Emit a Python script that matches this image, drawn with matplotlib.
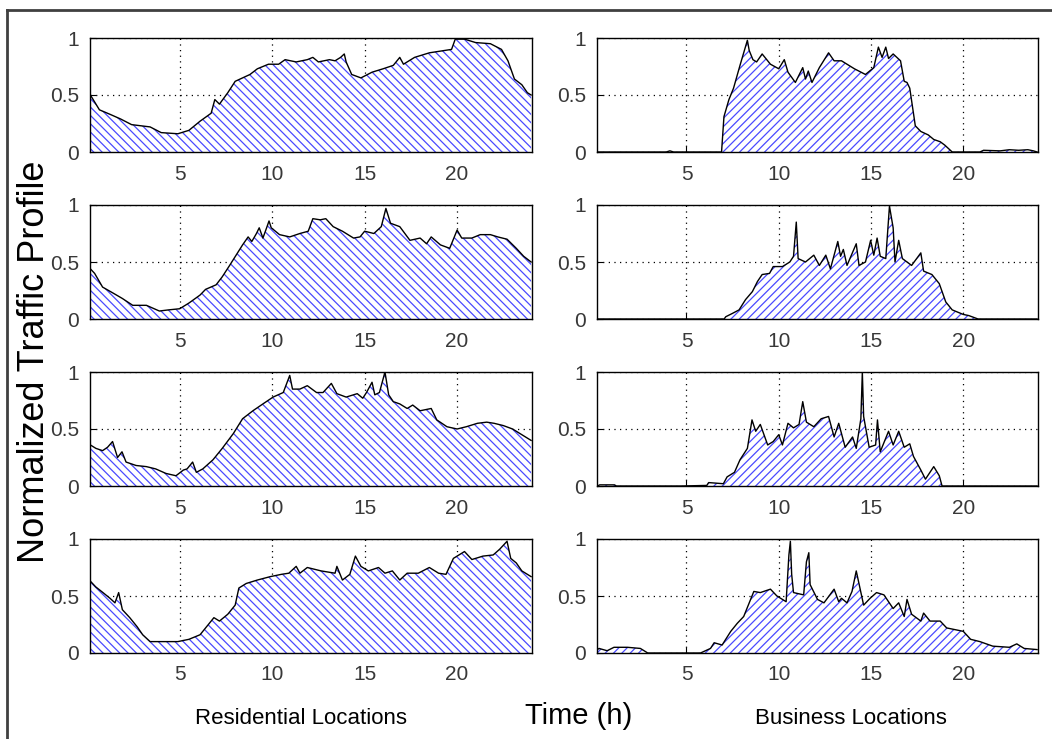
import matplotlib
matplotlib.use("Agg")
import matplotlib.pyplot as plt
from matplotlib.lines import Line2D

plt.rcParams['font.family'] = ['Liberation Sans', 'DejaVu Sans']
plt.rcParams['hatch.linewidth'] = 0.9

# ---------------- data (hours, normalized traffic) ----------------
res1_h = [0.17, 0.66, 1.24, 1.8, 2.4, 3.4, 4.0, 4.9, 5.5, 6.1, 6.7, 6.9, 7.15, 7.6, 8.0, 8.8, 9.2, 9.8,
          10.35, 10.7, 11.3, 11.9, 12.2, 12.5, 13.1, 13.4, 13.7, 13.9, 14.0, 14.3, 14.8, 15.4, 16.0,
          16.55, 16.9, 17.1, 17.7, 18.5, 19.3, 19.7, 19.9, 20.4, 21.0, 21.8, 22.4, 22.75, 23.1, 23.5,
          23.8, 24.0]
res1_v = [0.50, 0.37, 0.33, 0.29, 0.24, 0.22, 0.17, 0.16, 0.19, 0.27, 0.34, 0.46, 0.42, 0.52, 0.62,
          0.68, 0.73, 0.77, 0.77, 0.81, 0.79, 0.81, 0.83, 0.79, 0.81, 0.80, 0.83, 0.86, 0.79, 0.68,
          0.65, 0.70, 0.73, 0.76, 0.83, 0.77, 0.83, 0.87, 0.89, 0.90, 0.99, 0.99, 0.96, 0.95, 0.90,
          0.80, 0.64, 0.59, 0.52, 0.50]

res2_h = [0.17, 0.4, 0.83, 1.37, 1.9, 2.46, 3.2, 3.9, 4.4, 5.0, 5.5, 6.1, 6.4, 6.97, 7.3, 7.7, 8.05,
          8.4, 8.7, 8.9, 9.15, 9.3, 9.5, 9.7, 9.83, 9.95, 10.4, 10.95, 11.5, 11.95, 12.2, 12.6, 12.9,
          13.3, 13.8, 14.4, 14.75, 15.0, 15.5, 15.9, 16.15, 16.4, 16.9, 17.45, 18.0, 18.35, 18.6,
          19.1, 19.6, 20.0, 20.25, 20.8, 21.25, 21.8, 22.2, 22.7, 23.2, 23.6, 24.0]
res2_v = [0.44, 0.40, 0.28, 0.23, 0.18, 0.12, 0.12, 0.07, 0.08, 0.09, 0.14, 0.21, 0.26, 0.30, 0.37,
          0.47, 0.56, 0.65, 0.72, 0.68, 0.75, 0.80, 0.71, 0.80, 0.86, 0.80, 0.74, 0.72, 0.75, 0.77,
          0.88, 0.87, 0.88, 0.81, 0.77, 0.71, 0.72, 0.77, 0.75, 0.81, 0.97, 0.84, 0.81, 0.69, 0.71,
          0.66, 0.72, 0.65, 0.62, 0.78, 0.71, 0.71, 0.74, 0.74, 0.72, 0.70, 0.62, 0.55, 0.50]

res3_h = [0.17, 0.47, 0.83, 1.1, 1.37, 1.64, 1.88, 2.1, 2.64, 3.2, 3.7, 4.26, 4.8, 5.2, 5.4, 5.7,
          5.9, 6.25, 6.8, 7.3, 7.9, 8.4, 8.96, 9.5, 10.05, 10.6, 10.95, 11.1, 11.5, 11.9, 12.4, 12.75,
          13.2, 13.5, 14.0, 14.6, 14.9, 15.1, 15.4, 15.55, 15.8, 16.0, 16.1, 16.3, 16.55, 16.9, 17.3,
          17.6, 18.0, 18.6, 18.9, 19.45, 20.0, 20.5, 21.1, 21.6, 22.0, 22.5, 23.0, 23.5, 24.0]
res3_v = [0.36, 0.33, 0.31, 0.34, 0.39, 0.25, 0.30, 0.21, 0.18, 0.17, 0.15, 0.11, 0.09, 0.14, 0.15,
          0.21, 0.12, 0.15, 0.23, 0.33, 0.46, 0.59, 0.66, 0.72, 0.78, 0.82, 0.97, 0.85, 0.85, 0.88,
          0.82, 0.82, 0.90, 0.81, 0.78, 0.81, 0.77, 0.82, 0.91, 0.80, 0.82, 0.94, 1.00, 0.80, 0.74,
          0.72, 0.68, 0.71, 0.66, 0.68, 0.58, 0.52, 0.50, 0.52, 0.55, 0.56, 0.55, 0.53, 0.50, 0.45,
          0.40]

res4_h = [0.17, 0.46, 0.85, 1.23, 1.5, 1.7, 1.9, 2.3, 2.7, 3.0, 3.4, 3.95, 4.9, 5.5, 6.1, 6.45, 6.85,
          7.15, 7.6, 8.0, 8.2, 8.6, 9.2, 9.9, 10.5, 10.9, 11.3, 11.5, 11.9, 12.65, 13.4, 13.5, 13.8,
          14.2, 14.5, 14.8, 15.2, 15.75, 16.1, 16.5, 16.9, 17.3, 17.9, 18.5, 19.0, 19.4, 19.8, 20.4,
          20.8, 21.4, 21.95, 22.3, 22.7, 22.9, 23.2, 23.5, 24.0]
res4_v = [0.63, 0.58, 0.53, 0.48, 0.44, 0.53, 0.38, 0.31, 0.23, 0.16, 0.10, 0.10, 0.10, 0.12, 0.16,
          0.23, 0.31, 0.28, 0.34, 0.42, 0.57, 0.61, 0.64, 0.67, 0.69, 0.70, 0.76, 0.70, 0.75, 0.72,
          0.70, 0.76, 0.64, 0.69, 0.85, 0.76, 0.72, 0.75, 0.70, 0.72, 0.64, 0.70, 0.70, 0.75, 0.70,
          0.69, 0.83, 0.89, 0.82, 0.85, 0.86, 0.91, 0.98, 0.83, 0.79, 0.72, 0.67]

bus1_h = [0.17, 3.9, 4.1, 4.3, 6.9, 7.03, 7.3, 7.55, 7.9, 8.1, 8.3, 8.4, 8.6, 8.8, 9.1, 9.55, 10.0,
          10.3, 10.5, 10.9, 11.3, 11.45, 11.6, 11.8, 12.2, 12.7, 13.0, 13.4, 14.1, 14.7, 15.15, 15.4,
          15.6, 15.8, 15.95, 16.2, 16.6, 16.8, 16.95, 17.1, 17.4, 17.7, 18.1, 18.4, 18.75, 19.0,
          19.4, 20.9, 21.1, 22.0, 22.5, 23.0, 23.5, 23.8, 24.0]
bus1_v = [0.0, 0.0, 0.01, 0.0, 0.0, 0.31, 0.46, 0.56, 0.76, 0.87, 0.98, 0.89, 0.81, 0.79, 0.86,
          0.77, 0.73, 0.81, 0.70, 0.61, 0.74, 0.64, 0.71, 0.61, 0.74, 0.87, 0.80, 0.80, 0.73, 0.68,
          0.74, 0.92, 0.83, 0.92, 0.82, 0.86, 0.80, 0.62, 0.61, 0.56, 0.23, 0.18, 0.15, 0.11, 0.09,
          0.06, 0.0, 0.0, 0.015, 0.01, 0.02, 0.015, 0.02, 0.01, 0.0]

bus2_h = [0.17, 7.04, 7.13, 7.5, 7.85, 8.2, 8.57, 8.85, 9.1, 9.5, 9.7, 10.2, 10.6, 10.8, 10.95,
          11.05, 11.45, 11.9, 12.2, 12.55, 12.8, 13.2, 13.35, 13.5, 13.7, 14.2, 14.35, 14.7, 14.98,
          15.15, 15.33, 15.5, 15.8, 16.0, 16.2, 16.3, 16.5, 16.7, 17.2, 17.7, 17.85, 18.3, 18.7,
          19.05, 19.4, 20.0, 20.3, 20.8, 24.0]
bus2_v = [0.0, 0.0, 0.02, 0.05, 0.08, 0.17, 0.24, 0.33, 0.39, 0.40, 0.46, 0.46, 0.50, 0.55, 0.85,
          0.53, 0.50, 0.56, 0.47, 0.56, 0.44, 0.68, 0.55, 0.61, 0.47, 0.66, 0.47, 0.50, 0.69, 0.56,
          0.71, 0.55, 0.53, 0.99, 0.80, 0.50, 0.69, 0.53, 0.47, 0.58, 0.42, 0.39, 0.31, 0.15, 0.08,
          0.04, 0.03, 0.0, 0.0]

bus3_h = [0.17, 0.3, 1.1, 1.2, 4.7, 6.1, 6.2, 7.0, 7.2, 7.6, 7.9, 8.3, 8.55, 8.75, 9.0, 9.4, 9.7,
          10.0, 10.2, 10.5, 10.8, 11.1, 11.3, 11.5, 11.9, 12.3, 12.7, 13.0, 13.25, 13.6, 14.0, 14.2,
          14.45, 14.53, 14.6, 14.9, 15.25, 15.35, 15.5, 15.95, 16.2, 16.5, 16.8, 17.1, 17.3, 17.7,
          17.95, 18.4, 18.7, 18.85, 24.0]
bus3_v = [0.0, 0.01, 0.01, 0.0, 0.0, 0.005, 0.03, 0.02, 0.08, 0.12, 0.23, 0.33, 0.58, 0.48, 0.54,
          0.36, 0.39, 0.45, 0.36, 0.55, 0.51, 0.54, 0.74, 0.56, 0.52, 0.59, 0.61, 0.43, 0.55, 0.34,
          0.43, 0.33, 0.59, 1.00, 0.61, 0.34, 0.36, 0.58, 0.30, 0.48, 0.36, 0.48, 0.34, 0.37, 0.26,
          0.14, 0.06, 0.17, 0.09, 0.0, 0.0]

bus4_h = [0.17, 0.26, 0.7, 1.07, 1.8, 2.5, 2.9, 5.76, 6.3, 6.5, 6.93, 7.4, 7.75, 8.1, 8.4, 8.65,
          9.0, 9.55, 9.9, 10.4, 10.55, 10.63, 10.7, 10.8, 11.35, 11.5, 11.63, 11.7, 12.1, 12.45,
          13.0, 13.25, 13.4, 13.7, 13.97, 14.2, 14.4, 14.6, 14.95, 15.3, 15.7, 16.2, 16.5, 16.8,
          16.95, 17.2, 17.7, 17.85, 18.2, 18.75, 19.1, 19.7, 20.0, 20.4, 20.9, 21.6, 22.5, 22.9,
          23.3, 24.0]
bus4_v = [0.03, 0.04, 0.02, 0.05, 0.05, 0.04, 0.0, 0.0, 0.04, 0.09, 0.07, 0.19, 0.26, 0.32, 0.44,
          0.54, 0.53, 0.56, 0.50, 0.45, 0.86, 0.98, 0.69, 0.53, 0.51, 0.80, 0.88, 0.60, 0.47, 0.44,
          0.56, 0.45, 0.48, 0.44, 0.54, 0.72, 0.57, 0.42, 0.48, 0.53, 0.51, 0.39, 0.44, 0.32, 0.47,
          0.34, 0.28, 0.35, 0.28, 0.28, 0.22, 0.20, 0.19, 0.12, 0.10, 0.06, 0.05, 0.08, 0.04, 0.03]

residential = [(res1_h, res1_v), (res2_h, res2_v), (res3_h, res3_v), (res4_h, res4_v)]
business = [(bus1_h, bus1_v), (bus2_h, bus2_v), (bus3_h, bus3_v), (bus4_h, bus4_v)]

x_ticks = [5, 10, 15, 20]
y_ticks = [0, 0.5, 1]
y_ticklabels = ['0', '0.5', '1']

# ---------------- figure ----------------
W, H = 1052, 739
fig = plt.figure(figsize=(W / 100, H / 100), dpi=100)

HATCH_COLOR = '#4a4aff'
row_tops = [38, 205, 372, 539]
ax_h = 114
cols = [(90, 442, residential, '\\' * 4), (597, 441, business, '/' * 4)]

for left, width, series, hatch in cols:
    for r, (hx, hv) in enumerate(series):
        top = row_tops[r]
        ax = fig.add_axes([left / W, 1 - (top + ax_h) / H, width / W, ax_h / H])
        ax.fill_between(hx, hv, 0, facecolor='white', edgecolor=HATCH_COLOR,
                        hatch=hatch, linewidth=0, zorder=1)
        ax.plot(hx, hv, color='black', lw=1.0, zorder=3)
        ax.set_xlim(0.15, 24.05)
        ax.set_ylim(0, 1)
        ax.set_xticks(x_ticks)
        ax.set_yticks(y_ticks)
        ax.set_yticklabels(y_ticklabels)
        ax.grid(True, color='black', linestyle=(0, (1, 3.5)), linewidth=0.9, zorder=0)
        ax.set_axisbelow(True)
        ax.tick_params(direction='in', length=4, width=0.8, labelsize=15,
                       labelcolor='#383838', color='black')
        ax.tick_params(axis='x', pad=9)
        ax.tick_params(axis='y', pad=8)
        for s in ax.spines.values():
            s.set_linewidth(1.0)
            s.set_color('black')

# labels
fig.text(35 / W, 1 - 362 / H, 'Normalized Traffic Profile', rotation=90,
         ha='center', va='center', fontsize=26)
fig.text(579 / W, 1 - 716 / H, 'Time (h)', ha='center', va='center', fontsize=21)
fig.text(301 / W, 1 - 718 / H, 'Residential Locations', ha='center', va='center', fontsize=16)
fig.text(851 / W, 1 - 718 / H, 'Business Locations', ha='center', va='center', fontsize=16)

# outer frame (left and top edges)
fig.add_artist(Line2D([7 / W, 7 / W], [0, 1 - 10 / H], transform=fig.transFigure,
                      color='#404040', lw=2))
fig.add_artist(Line2D([7 / W, 1], [1 - 10 / H, 1 - 10 / H], transform=fig.transFigure,
                      color='#404040', lw=2))

fig.savefig('out.png', dpi=100)
